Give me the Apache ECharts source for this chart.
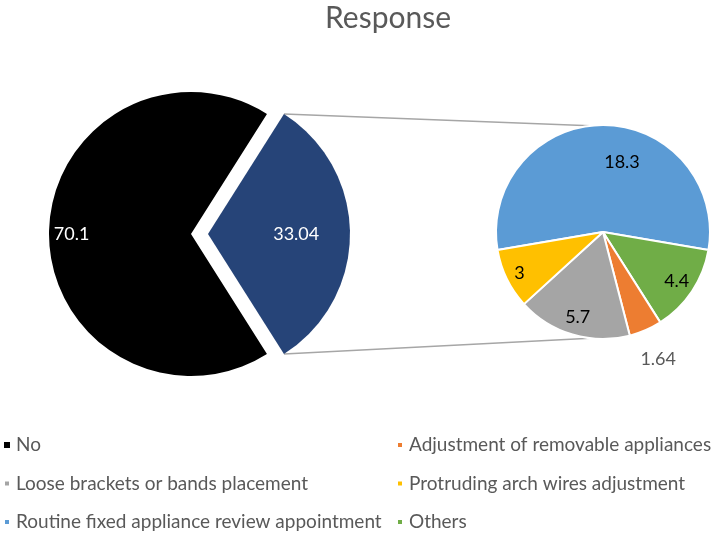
<!DOCTYPE html>
<html>
<head>
<meta charset="utf-8">
<script src="https://cdn.jsdelivr.net/npm/echarts@6/dist/echarts.min.js"></script>
<style>
  html, body { margin: 0; padding: 0; background: #fff; }
  #chart { width: 716px; height: 535px; }
</style>
</head>
<body>
<div id="chart"></div>
<script>
// big pie: "No" and the slice that is split out into the small pie
const mainNames = ['Other', 'No'];
const mainValues = [33.04, 70.1];

// small pie, clockwise from the left edge of the big blue slice
const subNames = [
  'Routine fixed appliance review appointment',
  'Others',
  'Adjustment of removable appliances',
  'Loose brackets or bands placement',
  'Protruding arch wires adjustment'
];
const subValues = [18.3, 4.4, 1.64, 5.7, 3];

const legendLeft = ['No', 'Loose brackets or bands placement', 'Routine fixed appliance review appointment'];
const legendRight = ['Adjustment of removable appliances', 'Protruding arch wires adjustment', 'Others'];

const colorOf = {
  'Other': '#264478',
  'No': '#000000',
  'Routine fixed appliance review appointment': '#5B9BD5',
  'Others': '#70AD47',
  'Adjustment of removable appliances': '#ED7D31',
  'Loose brackets or bands placement': '#A5A5A5',
  'Protruding arch wires adjustment': '#FFC000'
};

// where the value label sits, as a share of the radius
const labelFrac = {
  'Other': 0.6, 'No': 0.82,
  'Routine fixed appliance review appointment': 0.62,
  'Others': 0.8,
  'Adjustment of removable appliances': 1.27,
  'Loose brackets or bands placement': 0.8,
  'Protruding arch wires adjustment': 0.84
};

const FONT = 'Lato, "Open Sans", sans-serif';
const mainC = [191, 234], mainR = 142, explode = 17;
const subC = [603, 232], subR = 107;

const sum = a => a.reduce((s, v) => s + v, 0);
const mainStart = mainValues[0] / sum(mainValues) * 180;
const subStart = 90 + subValues[0] / sum(subValues) * 180;

const radialShift = (center, r, name) => params => {
  const lr = params.labelRect;
  const x = lr.x + lr.width / 2, y = lr.y + lr.height / 2;
  let ux = x - center[0], uy = y - center[1];
  const len = Math.sqrt(ux * ux + uy * uy) || 1;
  ux /= len; uy /= len;
  const n = name(params.dataIndex);
  const d = (labelFrac[n] - 0.5) * r;
  let dx = ux * d, dy = uy * d;
  if (n === 'Routine fixed appliance review appointment') dx += 19;
  return { dx: dx, dy: dy };
};

const chart = echarts.init(document.getElementById('chart'), null, { renderer: 'canvas' });

// connector lines from the exploded slice to the small pie
const a0 = mainStart * Math.PI / 180;
const tipX = mainC[0] + explode;
const topA = [tipX + mainR * Math.cos(a0), mainC[1] - mainR * Math.sin(a0)];
const botA = [tipX + mainR * Math.cos(a0), mainC[1] + mainR * Math.sin(a0)];
const t = 7 * Math.PI / 180;
const topB = [subC[0] - subR * Math.sin(t), subC[1] - subR * Math.cos(t)];
const botB = [subC[0] - subR * Math.sin(t), subC[1] + subR * Math.cos(t)];

const legendBase = {
  orient: 'vertical',
  top: 435,
  padding: 0,
  icon: 'rect',
  itemWidth: 6,
  itemHeight: 6,
  itemGap: 18.5,
  selectedMode: false,
  textStyle: { fontFamily: FONT, fontSize: 19, color: '#595959', lineHeight: 20, padding: [0, 0, 0, 1] }
};

chart.setOption({
  backgroundColor: '#ffffff',
  animation: false,
  title: {
    text: 'Response',
    left: 325,
    top: 3,
    padding: 0,
    textStyle: { fontFamily: FONT, fontSize: 30, fontWeight: 'normal', color: '#595959' }
  },
  legend: [
    Object.assign({}, legendBase, { left: 3, data: legendLeft }),
    Object.assign({}, legendBase, { left: 396, data: legendRight })
  ],
  graphic: [
    { type: 'line', shape: { x1: topA[0], y1: topA[1], x2: topB[0], y2: topB[1] }, style: { stroke: '#A6A6A6', lineWidth: 1.5 }, z: -1 },
    { type: 'line', shape: { x1: botA[0], y1: botA[1], x2: botB[0], y2: botB[1] }, style: { stroke: '#A6A6A6', lineWidth: 1.5 }, z: -1 }
  ],
  series: [
    {
      type: 'pie',
      center: mainC,
      radius: mainR,
      startAngle: mainStart,
      clockwise: true,
      selectedMode: 'single',
      selectedOffset: explode,
      emphasis: { disabled: true },
      label: { show: true, position: 'inside', formatter: '{c}', color: '#ffffff', fontFamily: FONT, fontSize: 18 },
      labelLine: { show: false },
      labelLayout: radialShift(mainC, mainR, i => mainNames[i]),
      data: mainNames.map((n, i) => ({
        name: n,
        value: mainValues[i],
        selected: n === 'Other',
        itemStyle: { color: colorOf[n] }
      }))
    },
    {
      type: 'pie',
      center: subC,
      radius: subR,
      startAngle: subStart,
      clockwise: true,
      emphasis: { disabled: true },
      itemStyle: { borderColor: '#ffffff', borderWidth: 2 },
      label: { show: true, position: 'inside', formatter: '{c}', color: '#000000', fontFamily: FONT, fontSize: 18 },
      labelLine: { show: false },
      labelLayout: radialShift(subC, subR, i => subNames[i]),
      data: subNames.map((n, i) => ({
        name: n,
        value: subValues[i],
        itemStyle: { color: colorOf[n] },
        label: n === 'Adjustment of removable appliances' ? { color: '#595959' } : undefined
      }))
    }
  ]
});
</script>
</body>
</html>
